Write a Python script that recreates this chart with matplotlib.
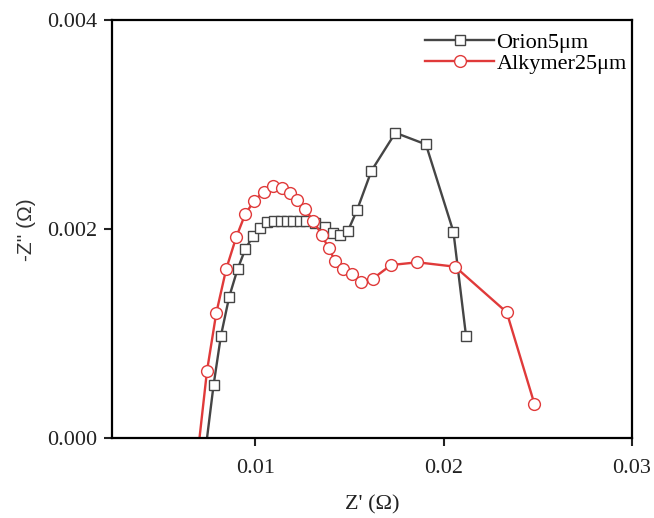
import matplotlib
matplotlib.use("Agg")
import matplotlib.pyplot as plt

# Nyquist data
orion_x = [0.00724, 0.00779, 0.00818, 0.00862, 0.00906, 0.00947, 0.00988, 0.01027,
           0.01065, 0.01101, 0.01135, 0.01170, 0.01202, 0.01236, 0.01271, 0.01318,
           0.01371, 0.01415, 0.01449, 0.01491, 0.01540, 0.01617, 0.01744, 0.01906,
           0.02052, 0.02119]
orion_y = [-0.00029, 0.000511, 0.000982, 0.001355, 0.001617, 0.001808, 0.001935, 0.002009,
           0.002072, 0.002078, 0.002078, 0.002078, 0.002078, 0.002078, 0.002078, 0.002064,
           0.002024, 0.001964, 0.001945, 0.001980, 0.002181, 0.002559, 0.002922, 0.002811,
           0.001976, 0.000979]

alky_x = [0.00686, 0.00744, 0.00793, 0.00846, 0.00899, 0.00947, 0.00995, 0.01044,
          0.01094, 0.01142, 0.01186, 0.01221, 0.01265, 0.01309, 0.01354, 0.01389,
          0.01424, 0.01468, 0.01513, 0.01562, 0.01624, 0.01721, 0.01861, 0.02061,
          0.02335, 0.02482]
alky_y = [-0.00029, 0.000645, 0.001196, 0.001620, 0.001923, 0.002145, 0.002272, 0.002358,
          0.002413, 0.002391, 0.002343, 0.002279, 0.002190, 0.002078, 0.001945, 0.001818,
          0.001701, 0.001617, 0.001575, 0.001498, 0.001527, 0.001658, 0.001684, 0.001642,
          0.001206, 0.000330]

x_ticks = [0.01, 0.02, 0.03]
y_ticks = [0.000, 0.002, 0.004]

plt.rcParams["font.family"] = ["Liberation Serif", "DejaVu Serif"]

fig = plt.figure(figsize=(6.54, 5.18), dpi=100)
ax = fig.add_axes([0.1713, 0.1535, 0.7951, 0.8079])

ax.plot(orion_x, orion_y, color="#454545", lw=1.7, marker="s", ms=7,
        mfc="white", mec="#454545", mew=1.0, label="Orion5μm")
ax.plot(alky_x, alky_y, color="#e03a3a", lw=1.7, marker="o", ms=8.5,
        mfc="white", mec="#e03a3a", mew=1.0, label="Alkymer25μm")

ax.set_xlim(0.0024, 0.03)
ax.set_ylim(0, 0.004)
ax.set_xticks(x_ticks)
ax.set_xticklabels(["0.01", "0.02", "0.03"])
ax.set_yticks(y_ticks)
ax.set_yticklabels(["0.000", "0.002", "0.004"])

for s in ax.spines.values():
    s.set_linewidth(1.6)
ax.tick_params(direction="out", length=6, width=1.5, labelsize=16,
               colors="#222222", pad=5)
ax.tick_params(axis="x", pad=9)

ax.set_xlabel("Z' (Ω)", fontsize=16, color="#222222", labelpad=12)
ax.set_ylabel("-Z'' (Ω)", fontsize=15, color="#333333",
              family=["Liberation Sans", "DejaVu Sans"], labelpad=8)

ax.legend(loc="upper right", bbox_to_anchor=(0.998, 0.982), frameon=False,
          fontsize=16, handlelength=3.1, handletextpad=0.1, borderaxespad=0,
          borderpad=0.2, labelspacing=0.05)

fig.savefig("out.png", dpi=100)
